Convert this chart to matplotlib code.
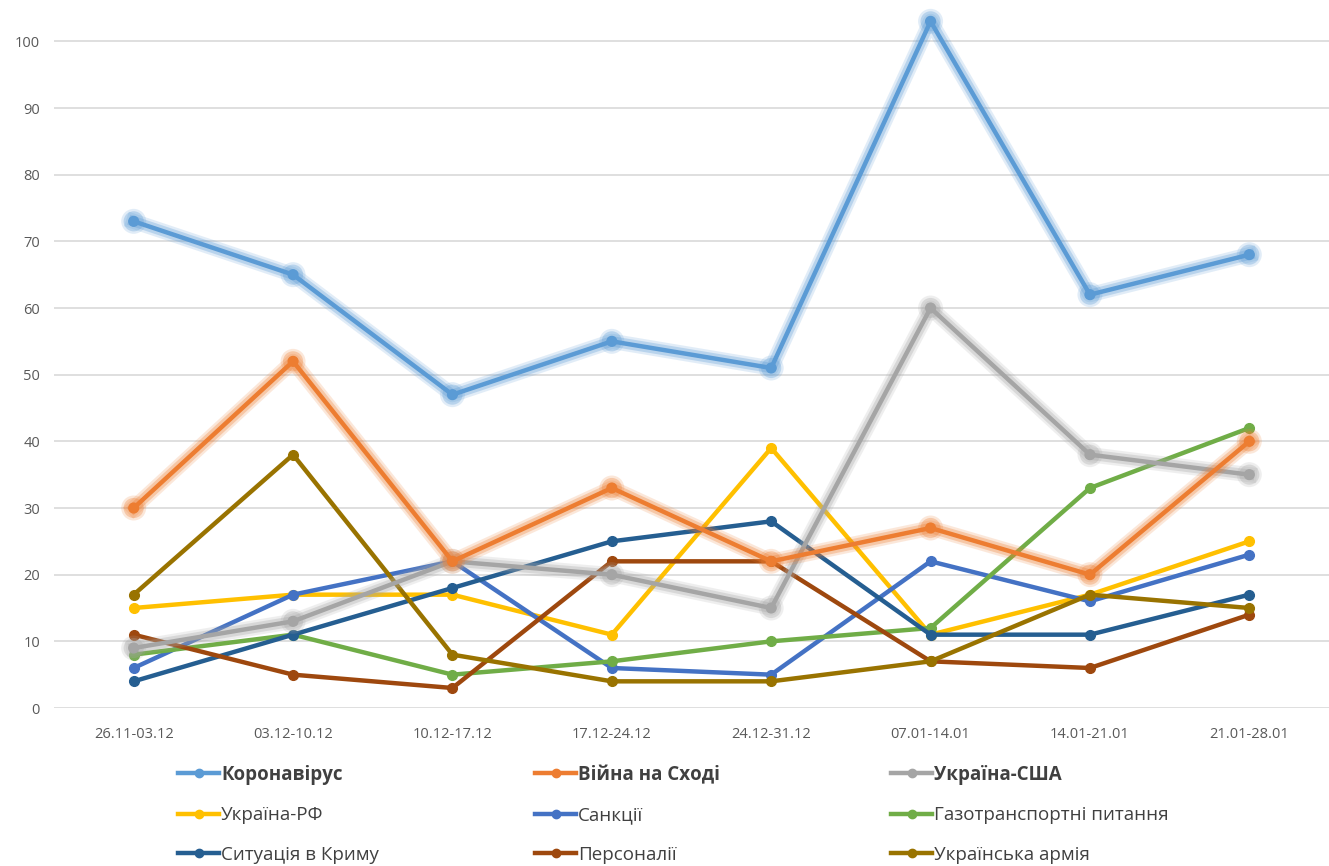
import matplotlib.pyplot as plt
import matplotlib.patheffects as pe
from matplotlib.lines import Line2D

# weekly periods
periods = ["26.11-03.12", "03.12-10.12", "10.12-17.12", "17.12-24.12",
           "24.12-31.12", "07.01-14.01", "14.01-21.01", "21.01-28.01"]

koronavirus = [73, 65, 47, 55, 51, 103, 62, 68]
viyna = [30, 52, 22, 33, 22, 27, 20, 40]
ukr_usa = [9, 13, 22, 20, 15, 60, 38, 35]
ukr_rf = [15, 17, 17, 11, 39, 11, 17, 25]
sanktsii = [6, 17, 22, 6, 5, 22, 16, 23]
gaz = [8, 11, 5, 7, 10, 12, 33, 42]
krym = [4, 11, 18, 25, 28, 11, 11, 17]
personalii = [11, 5, 3, 22, 22, 7, 6, 14]
armiya = [17, 38, 8, 4, 4, 7, 17, 15]

names = ["Коронавірус", "Війна на Сході", "Україна-США",
         "Україна-РФ", "Санкції", "Газотранспортні питання",
         "Ситуація в Криму", "Персоналії", "Українська армія"]
series = [koronavirus, viyna, ukr_usa, ukr_rf, sanktsii, gaz, krym, personalii, armiya]
colors = ["#5B9BD5", "#ED7D31", "#A5A5A5", "#FFC000", "#4472C4",
          "#70AD47", "#255E91", "#9E480E", "#997300"]
highlighted = [True, True, True, False, False, False, False, False, False]

plt.rcParams['font.family'] = ['Open Sans', 'DejaVu Sans']

fig = plt.figure(figsize=(13.29, 8.66), dpi=100)
ax = fig.add_axes([54 / 1329, 158 / 866, 1 - 54 / 1329, 708 / 866])

x = list(range(len(periods)))
# highlighted series drawn last so they sit on top
order = [3, 4, 5, 6, 7, 8, 2, 1, 0]
for i in order:
    effects = []
    if highlighted[i]:
        effects = [pe.Stroke(linewidth=11, foreground=colors[i], alpha=0.18),
                   pe.Stroke(linewidth=7.5, foreground=colors[i], alpha=0.3),
                   pe.Normal()]
    ax.plot(x, series[i], color=colors[i], linewidth=3.2,
            marker='o', markersize=7, zorder=3 + (1 if highlighted[i] else 0),
            path_effects=effects)

ax.set_xlim(-0.5, len(periods) - 0.5)
ax.set_ylim(0, 106.2)
ax.set_yticks(range(0, 101, 10))
ax.set_xticks(x)
ax.set_xticklabels(periods)
ax.yaxis.grid(True, color="#D9D9D9", linewidth=1.2)
ax.set_axisbelow(True)
for s in ax.spines.values():
    s.set_visible(False)
ax.tick_params(length=0, labelsize=10.5, colors="#595959", pad=10)
ax.tick_params(axis='x', pad=14)

# legend: three columns, filled row by row
col_x = [178, 535, 891]
for c in range(3):
    idx = [r * 3 + c for r in range(3)]
    hs = [Line2D([], [], color=colors[i], linewidth=3.2, marker='o', markersize=6) for i in idx]
    leg = fig.legend(hs, [names[i] for i in idx], loc='upper left',
                     bbox_to_anchor=(col_x[c] / 1329, 1 - 765 / 866),
                     frameon=False, borderpad=0, borderaxespad=0,
                     fontsize=13.5, handlelength=2.2, handletextpad=0.1,
                     labelspacing=1.14, labelcolor="#404040")
    for i, t in zip(idx, leg.get_texts()):
        if highlighted[i]:
            t.set_fontweight('bold')

fig.savefig("out.png", dpi=100)
